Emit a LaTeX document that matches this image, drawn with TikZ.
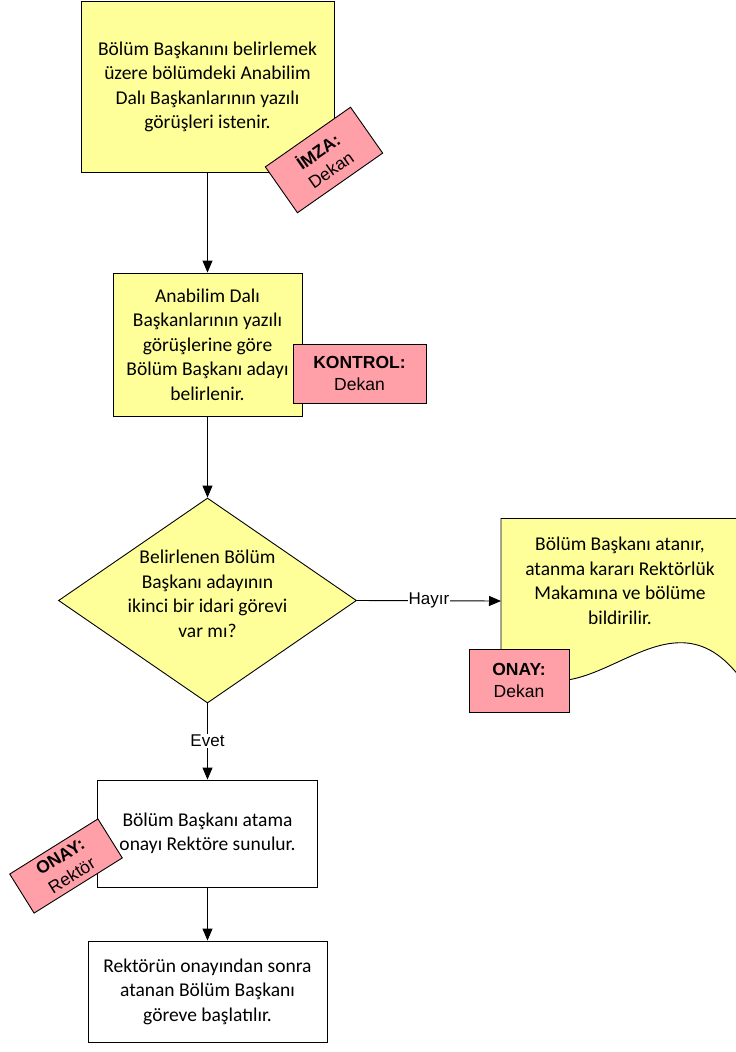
\documentclass[tikz,border=0pt]{standalone}
\usepackage{fontspec}
\setmainfont{Carlito}
\newfontfamily\arialf{Liberation Sans}
\usetikzlibrary{arrows.meta,shapes.geometric}
\definecolor{yel}{RGB}{255,255,153}
\definecolor{pnk}{RGB}{255,160,168}
\begin{document}
\begin{tikzpicture}[x=1pt,y=-1pt,
  box/.style={draw=black, line width=0.9pt, align=center, font=\fontsize{19.5}{24.5}\selectfont, inner sep=0pt},
  ybox/.style={box, fill=yel},
  wbox/.style={box, fill=white},
  lbl/.style={draw=black, fill=pnk, align=center, font=\arialf\fontsize{17.5}{22}\selectfont, line width=0.9pt, inner sep=0pt},
  elbl/.style={fill=white, font=\arialf\fontsize{17}{20}\selectfont, inner sep=1pt},
  arr/.style={-{Triangle[width=10pt,length=12pt]}, line width=0.9pt}]
\useasboundingbox (0,0) rectangle (736,1052);

% process boxes
\node[ybox, minimum width=253pt, minimum height=171pt] (b1) at (207.5,87)
  {Bölüm Başkanını belirlemek\\üzere bölümdeki Anabilim\\Dalı Başkanlarının yazılı\\görüşleri istenir.};
\node[ybox, minimum width=189pt, minimum height=143pt] (b2) at (207.5,344.5)
  {Anabilim Dalı\\Başkanlarının yazılı\\görüşlerine göre\\Bölüm Başkanı adayı\\belirlenir.};
\node[draw=black, fill=yel, line width=0.9pt, diamond, inner sep=0pt, minimum width=298pt, minimum height=205pt, text width=0pt] (dia) at (207.5,600.5) {};
\node[align=center, font=\fontsize{19.5}{24.5}\selectfont, inner sep=0pt] (diat) at (207.5,594)
  {Belirlenen Bölüm\\Başkanı adayının\\ikinci bir idari görevi\\var mı?};

% document shape
\coordinate (docw) at (501,601);
\draw[fill=yel, line width=0.9pt] (501,652) -- (501,518.5) -- (745,518.5) -- (745,678)
  -- (739,676) .. controls (660,575) and (580,745) .. (501,652) -- cycle;
\node[align=center, font=\fontsize{19.5}{24.5}\selectfont, inner sep=0pt] (doct) at (620,581)
  {Bölüm Başkanı atanır,\\atanma kararı Rektörlük\\Makamına ve bölüme\\bildirilir.};

\node[wbox, minimum width=220pt, minimum height=107pt] (b3) at (207.5,833.5)
  {Bölüm Başkanı atama\\onayı Rektöre sunulur.};
\node[wbox, minimum width=239pt, minimum height=101pt] (b4) at (207.5,991.5)
  {Rektörün onayından sonra\\atanan Bölüm Başkanı\\göreve başlatılır.};

% connectors
\draw[arr] (b1.south) -- (b2.north);
\draw[arr] (b2.south) -- (dia.north);
\draw[arr] (dia.east) -- node[elbl] {Hayır} (docw);
\draw[arr] (dia.south) -- node[elbl, pos=0.49] {Evet} (b3.north);
\draw[arr] (b3.south) -- (b4.north);

% role labels
\node[lbl, minimum width=104pt, minimum height=56pt, rotate=35] (l1) at (324,160)
  {\textbf{İMZA:}\\Dekan};
\node[lbl, minimum width=133pt, minimum height=59pt] (l2) at (359.5,373.5)
  {\textbf{KONTROL:}\\Dekan};
\node[lbl, minimum width=100pt, minimum height=63pt] (l3) at (519,680.5)
  {\textbf{ONAY:}\\Dekan};
\node[lbl, minimum width=104pt, minimum height=46pt, rotate=32] (l4) at (66,866)
  {\textbf{ONAY:}\\Rektör};
\end{tikzpicture}
\end{document}
